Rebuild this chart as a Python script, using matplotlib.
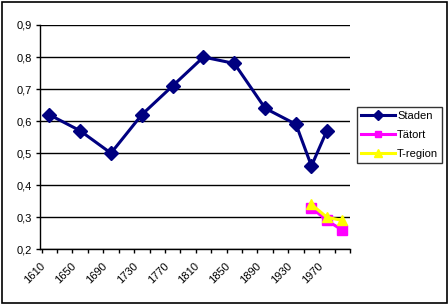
import matplotlib
matplotlib.use("Agg")
import matplotlib.pyplot as plt
import numpy as np

plt.rcParams['font.family'] = ['Liberation Sans', 'DejaVu Sans']

# Categories (20-year steps), labels every second category
categories = list(range(1610, 1991, 20))
tick_years = [1610, 1650, 1690, 1730, 1770, 1810, 1850, 1890, 1930, 1970]

staden_years = [1610, 1650, 1690, 1730, 1770, 1810, 1850, 1890, 1930, 1950, 1970]
staden_vals = [0.62, 0.57, 0.50, 0.62, 0.71, 0.80, 0.78, 0.64, 0.59, 0.46, 0.57]

tatort_years = [1950, 1970, 1990]
tatort_vals = [0.33, 0.29, 0.26]

tregion_years = [1950, 1970, 1990]
tregion_vals = [0.34, 0.30, 0.29]

y_ticks = [0.2, 0.3, 0.4, 0.5, 0.6, 0.7, 0.8, 0.9]

W, H = 448, 304
fig = plt.figure(figsize=(W / 100, H / 100), dpi=100)
ax = fig.add_axes([40 / W, 1 - 249.3 / H, 310 / W, (249.3 - 25) / H])

def idx(years):
    return [categories.index(y) for y in years]

ax.plot(idx(staden_years), staden_vals, color='#000080', lw=2.2,
        marker='D', ms=7, mec='#000080', mfc='#000080', label='Staden', zorder=3)
ax.plot(idx(tatort_years), tatort_vals, color='#FF00FF', lw=2.2,
        marker='s', ms=7, mec='#FF00FF', mfc='#FF00FF', label='Tätort', zorder=4)
ax.plot(idx(tregion_years), tregion_vals, color='#FFFF00', lw=2.2,
        marker='^', ms=7.5, mec='#FFFF00', mfc='#FFFF00', label='T-region', zorder=5)

ax.set_xlim(-0.5, len(categories) - 0.5)
ax.set_ylim(0.2, 0.9)

# y axis
ax.set_yticks(y_ticks)
ax.set_yticklabels([f"{v:.1f}".replace('.', ',') for v in y_ticks], fontsize=8)
ax.yaxis.grid(True, color='black', lw=1)
ax.set_axisbelow(True)

# x axis: tick marks at every category boundary, labels at every second
ax.set_xticks(np.arange(-0.5, len(categories), 1.0), minor=True)
ax.set_xticks([categories.index(y) - 0.5 - 0.1 for y in tick_years])
ax.set_xticklabels([str(y) for y in tick_years], fontsize=8, rotation=45,
                   ha='right', va='top', rotation_mode='anchor')
ax.tick_params(axis='x', which='major', length=0, pad=8.5)
ax.tick_params(axis='x', which='minor', length=3, width=1, color='black', direction='out')
ax.tick_params(axis='y', length=3, width=1, color='black', direction='out', pad=2.5)

for s in ['top', 'right']:
    ax.spines[s].set_visible(False)
for s in ['left', 'bottom']:
    ax.spines[s].set_linewidth(1)
    ax.spines[s].set_color('black')

leg = ax.legend(loc='upper left', bbox_to_anchor=(357 / W, 1 - 107 / H),
                bbox_transform=fig.transFigure, frameon=True, fancybox=False,
                edgecolor='black', fontsize=8, handlelength=3.1, handletextpad=0.15,
                borderpad=0.35, labelspacing=0.8, borderaxespad=0, markerscale=0.7)
leg.get_frame().set_linewidth(1)

# outer border
fig.patches.append(plt.Rectangle((1.5 / W, 1.5 / H), (W - 3) / W, (H - 3) / H,
                                 transform=fig.transFigure, fill=False,
                                 edgecolor='black', lw=1.2))

fig.savefig('out.png', dpi=100)
